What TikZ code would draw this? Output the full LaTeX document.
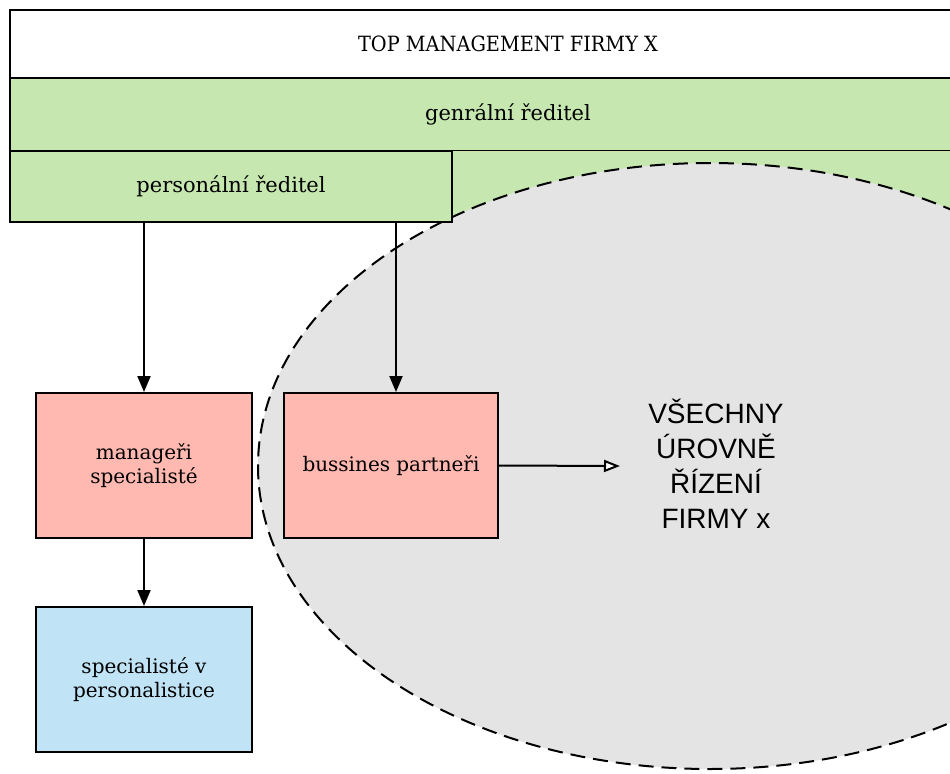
\documentclass[tikz,border=0pt]{standalone}
\usepackage{fontspec}
\setmainfont{DejaVu Serif}
\newfontfamily\titlefont[FakeStretch=0.92]{DejaVu Serif}
\newfontfamily\labelfont{Liberation Sans}
\usetikzlibrary{positioning,arrows.meta,shapes.geometric}
\definecolor{bandgreen}{RGB}{198,231,176}
\definecolor{boxred}{RGB}{255,185,176}
\definecolor{boxblue}{RGB}{192,228,246}
\definecolor{ellgray}{RGB}{228,228,228}
\tikzset{every picture/.style={line width=1pt}}

\begin{document}
\begin{tikzpicture}[x=0.5pt, y=-0.5pt,
    band/.style={draw, rectangle, inner sep=0pt, font=\fontsize{10.5}{13}\selectfont},
    unit/.style={draw, rectangle, minimum width=108pt, minimum height=72.5pt, align=center, inner sep=2pt, font=\fontsize{10}{12}\selectfont},
    arr/.style={-{Triangle[length=8pt,width=6.5pt]}},
    openarr/.style={-{Triangle[open,fill=white,length=8pt,width=6pt]}}]
    \useasboundingbox (0,0) rectangle (950,773);
    \clip (0,0) rectangle (950,773);

    % Management bands
    \node[band, fill=white, minimum width=498pt, minimum height=34pt, font=\titlefont\fontsize{10.5}{13}\selectfont] (top) at (508,44) {TOP MANAGEMENT FIRMY X};
    \node[band, fill=bandgreen, minimum width=498pt, minimum height=36.5pt] (ceo) at (508,114.5) {genrální ředitel};
    \fill[bandgreen] (452,151) rectangle (1006,222);

    % Area of all levels
    \node[draw, ellipse, dash pattern=on 7.5pt off 4pt, fill=ellgray, inner sep=0pt, minimum width=452pt, minimum height=303pt] (levels) at (710,466) {};
    \node[align=center, font=\labelfont\fontsize{14}{17.5}\selectfont] (levelstext) at (716,464) {VŠECHNY\\ÚROVNĚ\\ŘÍZENÍ\\FIRMY x};

    \node[band, fill=bandgreen, minimum width=221pt, minimum height=35.5pt] (personal) at (231,186.5) {personální ředitel};

    % Units
    \node[unit, fill=boxred] (managers) at (144,465.5) {manageři\\specialisté};
    \node[unit, fill=boxblue] (specialists) at (144,679.5) {specialisté v\\personalistice};
    \node[unit, fill=boxred, minimum width=107pt] (partners) at (391,465.5) {bussines partneři};
    \coordinate (partnersend) at (620,466);

    % Connections
    \draw[arr] (managers.north |- personal.south) -- (managers.north);
    \draw[arr] ([xshift=2.5pt]partners.north |- personal.south) -- ([xshift=2.5pt]partners.north);
    \draw[arr] (managers) -- (specialists);
    \draw[openarr] (partners.east) -- (partnersend);
\end{tikzpicture}
\end{document}
